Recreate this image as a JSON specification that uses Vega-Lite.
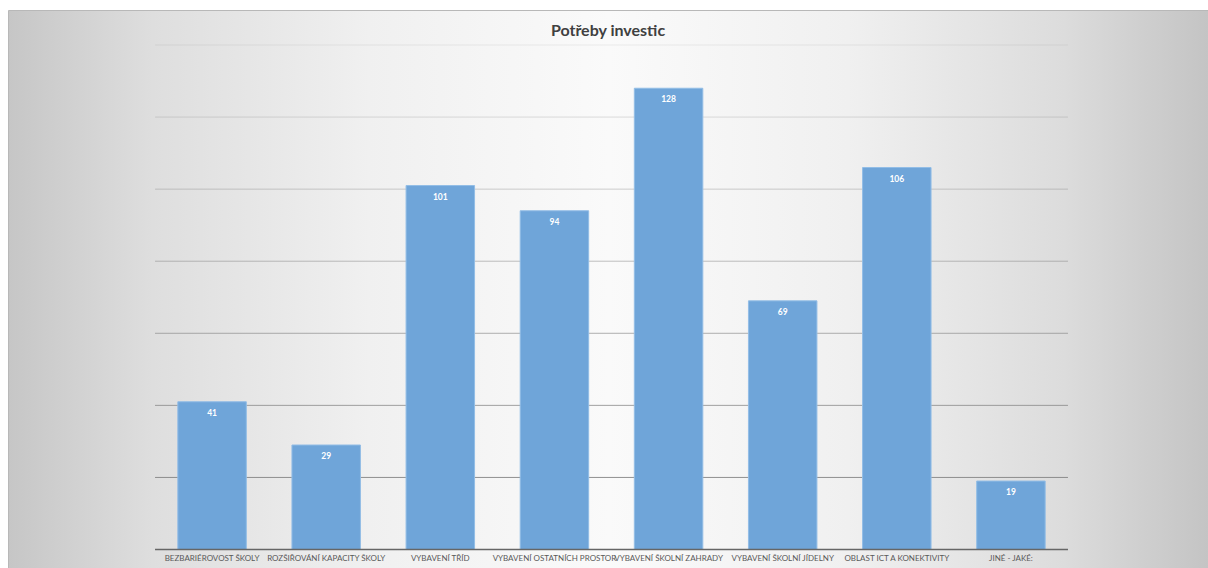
{
  "$schema": "https://vega.github.io/schema/vega-lite/v6.json",
  "width": 1200,
  "height": 558,
  "autosize": {"type": "none"},
  "padding": {"left": 8, "top": 10, "right": 0, "bottom": 0},
  "background": "white",
  "title": {"text": "Potřeby investic", "font": "Lato", "fontSize": 16, "fontWeight": "bold", "color": "#404040", "offset": -29, "anchor": "middle"},
  "view": {
    "stroke": "#b8b8b8",
    "strokeWidth": 1,
    "fill": {
      "gradient": "linear", "x1": 0, "y1": 0, "x2": 1, "y2": 0,
      "stops": [
        {"offset": 0, "color": "#c6c6c6"},
        {"offset": 0.12, "color": "#dedede"},
        {"offset": 0.3, "color": "#f0f0f0"},
        {"offset": 0.5, "color": "#fafafa"},
        {"offset": 0.7, "color": "#f0f0f0"},
        {"offset": 0.88, "color": "#dcdcdc"},
        {"offset": 1, "color": "#c4c4c4"}
      ]
    }
  },
  "datasets": {
    "bars": [
      {"kat": "BEZBARIÉROVOST ŠKOLY", "pocet": 41},
      {"kat": "ROZŠIŘOVÁNÍ KAPACITY ŠKOLY", "pocet": 29},
      {"kat": "VYBAVENÍ TŘÍD", "pocet": 101},
      {"kat": "VYBAVENÍ OSTATNÍCH PROSTOR", "pocet": 94},
      {"kat": "VYBAVENÍ ŠKOLNÍ ZAHRADY", "pocet": 128},
      {"kat": "VYBAVENÍ ŠKOLNÍ JÍDELNY", "pocet": 69},
      {"kat": "OBLAST ICT A KONEKTIVITY", "pocet": 106},
      {"kat": "JINÉ - JAKÉ:", "pocet": 19}
    ],
    "grid": [
      {"g": 0}, {"g": 20}, {"g": 40}, {"g": 60}, {"g": 80}, {"g": 100}, {"g": 120}, {"g": 140}
    ]
  },
  "layer": [
    {
      "data": {"name": "grid"},
      "transform": [{"filter": "datum.g > 0"}],
      "mark": {"type": "rule", "color": "#7f7f7f", "strokeWidth": 1},
      "encoding": {
        "y": {"field": "g", "type": "quantitative", "scale": {"domain": [-5.13, 149.71], "nice": false, "zero": false}, "axis": null},
        "x": {"datum": "BEZBARIÉROVOST ŠKOLY", "type": "nominal", "bandPosition": -0.333},
        "x2": {"datum": "JINÉ - JAKÉ:", "bandPosition": 1.333},
        "opacity": {"field": "g", "type": "quantitative", "scale": {"domain": [20, 140], "range": [0.85, 0.12]}, "legend": null}
      }
    },
    {
      "data": {"name": "bars"},
      "mark": {"type": "bar", "color": "#6fa5d9", "stroke": "#92bde6", "strokeWidth": 1},
      "encoding": {
        "x": {
          "field": "kat", "type": "nominal", "sort": null,
          "scale": {
            "domain": ["BEZBARIÉROVOST ŠKOLY", "ROZŠIŘOVÁNÍ KAPACITY ŠKOLY", "VYBAVENÍ TŘÍD", "VYBAVENÍ OSTATNÍCH PROSTOR", "VYBAVENÍ ŠKOLNÍ ZAHRADY", "VYBAVENÍ ŠKOLNÍ JÍDELNY", "OBLAST ICT A KONEKTIVITY", "JINÉ - JAKÉ:"],
            "range": [147, 1060],
            "paddingInner": 0.4, "paddingOuter": 0.2
          },
          "axis": {
            "title": null, "orient": "bottom", "offset": -19, "domain": false, "ticks": false, "grid": false,
            "labelAngle": 0, "labelAlign": "center", "labelFont": "Lato", "labelFontSize": 8, "labelColor": "#595959",
            "labelPadding": 5, "labelLimit": 0, "labelOverlap": false, "labelBaseline": "top"
          }
        },
        "y": {"field": "pocet", "type": "quantitative", "scale": {"domain": [-5.13, 149.71], "nice": false, "zero": false}, "axis": null},
        "y2": {"datum": 0}
      }
    },
    {
      "data": {"name": "bars"},
      "mark": {"type": "text", "color": "white", "font": "Lato", "fontSize": 8.5, "fontWeight": "bold", "baseline": "middle", "dy": 11},
      "encoding": {
        "x": {"field": "kat", "type": "nominal", "sort": null},
        "y": {"field": "pocet", "type": "quantitative", "scale": {"domain": [-5.13, 149.71], "nice": false, "zero": false}, "axis": null},
        "text": {"field": "pocet", "type": "quantitative"}
      }
    },
    {
      "data": {"name": "grid"},
      "transform": [{"filter": "datum.g == 0"}],
      "mark": {"type": "rule", "color": "#666666", "strokeWidth": 1.5},
      "encoding": {
        "y": {"field": "g", "type": "quantitative", "scale": {"domain": [-5.13, 149.71], "nice": false, "zero": false}, "axis": null},
        "x": {"datum": "BEZBARIÉROVOST ŠKOLY", "type": "nominal", "bandPosition": -0.333},
        "x2": {"datum": "JINÉ - JAKÉ:", "bandPosition": 1.333}
      }
    }
  ]
}
